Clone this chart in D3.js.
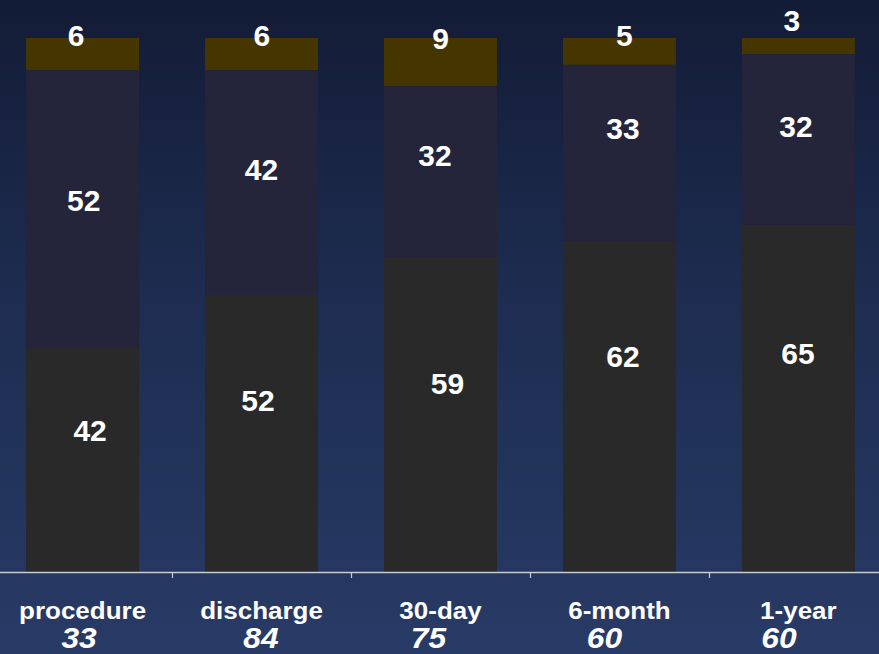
<!DOCTYPE html>
<html>
<head>
<meta charset="utf-8">
<script src="https://cdn.jsdelivr.net/npm/d3@7"></script>
<style>
  html, body { margin: 0; padding: 0; background: #1c2a4c; }
  svg { display: block; }
  text { font-family: "Liberation Sans", Arial, sans-serif; font-weight: bold; fill: #ffffff; }
</style>
</head>
<body>
<svg id="chart" width="879" height="654"></svg>
<script>
// Follow-up time points and the number of patients at each one
const timepoints = ["procedure", "discharge", "30-day", "6-month", "1-year"];
const patientCounts = [33, 84, 75, 60, 60];

// Percentage of patients in each class, stacked bottom to top
const classLow  = [42, 52, 59, 62, 65];
const classMid  = [52, 42, 32, 33, 32];
const classHigh = [6, 6, 9, 5, 3];

const seriesKeys = ["low", "mid", "high"];
const seriesColors = { low: "#292929", mid: "#24243a", high: "#453600" };

// Hand-tuned label offsets (dx, dy) from each segment's centre, per series / bar
const labelNudge = {
  low:  [[7.5, -29.5], [-3.5, -33], [7, -31], [3.5, -50.5], [-0.5, -45]],
  mid:  [[1.2, -8.7], [0, -12.7], [-5.5, -16.5], [3.5, -24.8], [-2.5, -13.4]],
  high: [[-6.5, -19], [0.2, -19], [0, -23.5], [5, -16.6], [-6.5, -26]]
};
const countNudge = [-3.5, -0.5, -12, -15, -19.5];

const W = 879, H = 654;
const baseY = 572, topY = 38;

const rows = timepoints.map((t, i) => ({ t, low: classLow[i], mid: classMid[i], high: classHigh[i] }));
const stacked = d3.stack().keys(seriesKeys)(rows);

const x = d3.scaleBand().domain(timepoints).range([-6.875, 887.875]).padding(0);
const barW = 113;
const y = d3.scaleLinear().domain([0, 100]).range([baseY, topY]);

const svg = d3.select("#chart");

// Background gradient
const defs = svg.append("defs");
const grad = defs.append("linearGradient").attr("id", "bg").attr("x1", 0).attr("y1", 0).attr("x2", 0).attr("y2", 1);
grad.append("stop").attr("offset", "0%").attr("stop-color", "#131c36");
grad.append("stop").attr("offset", "45%").attr("stop-color", "#1d2c50");
grad.append("stop").attr("offset", "100%").attr("stop-color", "#283b66");
svg.append("rect").attr("width", W).attr("height", H).attr("fill", "url(#bg)");

// Stacked bars
const cx = t => x(t) + x.bandwidth() / 2;
const layers = svg.append("g").selectAll("g").data(stacked).join("g")
  .attr("fill", s => seriesColors[s.key]);
layers.selectAll("rect").data(s => s).join("rect")
  .attr("x", d => cx(d.data.t) - barW / 2)
  .attr("width", barW)
  .attr("y", d => y(d[1]))
  .attr("height", d => y(d[0]) - y(d[1]));

// Value labels
const labels = svg.append("g").attr("font-size", 30).attr("text-anchor", "middle");
stacked.forEach(s => {
  s.forEach((d, i) => {
    const [dx, dy] = labelNudge[s.key][i];
    labels.append("text")
      .attr("x", cx(d.data.t) + dx)
      .attr("y", (y(d[0]) + y(d[1])) / 2 + dy)
      .attr("dy", "0.36em")
      .text(d[1] - d[0]);
  });
});

// Category axis: baseline with ticks at band boundaries
const axis = svg.append("g");
axis.append("line").attr("x1", 0).attr("x2", W).attr("y1", baseY + 0.5).attr("y2", baseY + 0.5)
  .attr("stroke", "#c8ccd4").attr("stroke-width", 1.5);
axis.selectAll("line.tick").data(timepoints.slice(1)).join("line")
  .attr("class", "tick")
  .attr("x1", t => Math.round(x(t)) + 0.5).attr("x2", t => Math.round(x(t)) + 0.5)
  .attr("y1", baseY).attr("y2", baseY + 6)
  .attr("stroke", "#c8ccd4").attr("stroke-width", 1.2);

// Category names, slightly widened
axis.selectAll("text.cat").data(timepoints).join("text")
  .attr("class", "cat")
  .attr("transform", t => `translate(${cx(t)},619) scale(1.13,1)`)
  .attr("text-anchor", "middle")
  .attr("font-size", 23)
  .text(t => t);

// Patient counts under each category
axis.selectAll("text.n").data(timepoints).join("text")
  .attr("class", "n")
  .attr("transform", (t, i) => `translate(${cx(t) + countNudge[i]},648) scale(1.06,1)`)
  .attr("text-anchor", "middle")
  .attr("font-size", 30)
  .attr("font-style", "italic")
  .text((t, i) => patientCounts[i]);
</script>
</body>
</html>
